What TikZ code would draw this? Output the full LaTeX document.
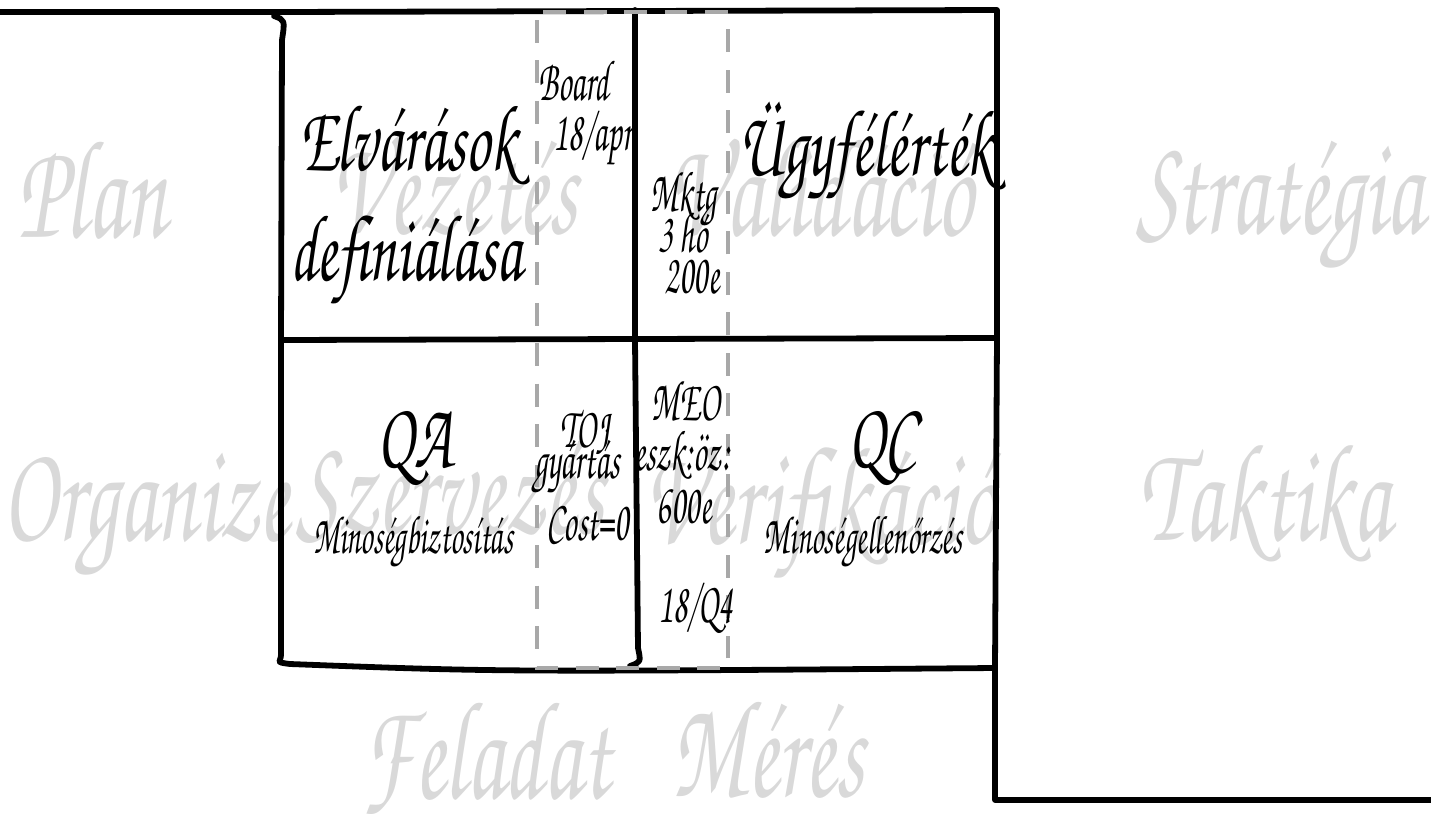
\documentclass[tikz,border=0pt]{standalone}
\usepackage{fontspec}
\newfontfamily\wmfont[FakeStretch=0.64]{TeX Gyre Chorus}
\newfontfamily\bigfont[FakeStretch=0.64]{TeX Gyre Chorus}
\newfontfamily\notefont[FakeStretch=0.57]{TeX Gyre Chorus}
\usetikzlibrary{positioning}
\definecolor{wmgray}{HTML}{D9D9D9}
\definecolor{lanegray}{HTML}{A8A8A8}
\tikzset{
  frame/.style={line width=3.3pt, line cap=round, line join=round},
  lane/.style={lanegray, line width=2.8pt, dash pattern=on 13pt off 10pt},
  wm/.style={text=wmgray, anchor=base, inner sep=0pt, font=\wmfont\fontsize{80}{80}\selectfont},
  big/.style={anchor=base, inner sep=0pt, font=\bigfont\fontsize{54}{54}\selectfont},
  sub/.style={anchor=base, inner sep=0pt, font=\notefont\fontsize{31}{31}\selectfont},
  note/.style={anchor=base, inner sep=0pt, font=\notefont\fontsize{33}{33}\selectfont},
}

\begin{document}
\begin{tikzpicture}[x=0.02cm, y=-0.02cm]
  \useasboundingbox (0,0) rectangle (1431,822);
  % watermark words
  \node[wm] (plan) at (92,237) {Plan};
  \node[wm] (organize) at (146,540) {Organize};
  \node[wm] (vezetes) at (454,233) {Vezetés};
  \node[wm] (validacio) at (820,235) {Validáció};
  \node[wm] (strategia) at (1280,233) {Stratégia};
  \node[wm] (szervezes) at (450,533) {Szervezés};
  \node[wm] (verifikacio) at (820,543) {Verifikáció};
  \node[wm] (taktika) at (1265,540) {Taktika};
  \node[wm] (feladat) at (486,798) {Feladat};
  \node[wm] (meres) at (768,796) {Mérés};
  % frame
  \coordinate (tl) at (280,12);
  \coordinate (tm) at (635,10);
  \coordinate (tr) at (997,10);
  \coordinate (ml) at (281,340);
  \coordinate (mr) at (997,338);
  \coordinate (bl) at (280,662);
  \coordinate (br) at (995,668);
  \draw[frame] (0,12) -- (tl) -- (tr) -- (mr) -- (br) -- (995,800) -- (1431,800);
  \draw[frame] (274,16) .. controls (285,20) .. (282,40) -- (ml) -- (281,655)
    .. controls (281,662) and (274,662) .. (290,664) .. controls (500,672) .. (br);
  \draw[frame] (ml) -- (mr);
  \draw[frame] (tm) -- (635,340) -- (638,648) .. controls (641,662) .. (630,666);
  % lanes
  \draw[lane] (537,20) -- (537,668) -- (728,668) -- (728,12) -- (537,12);
  % left column
  \node[big] (elvarasok) at (408,170) {Elvárások};
  \node[big] (definialasa) at (406,280) {definiálása};
  \node[big] (qa) at (415,467) {QA};
  \node[sub] (qasub) at (413,553) {Minoségbiztosítás};
  % lane notes
  \node[note] (board) at (574,100) {Board};
  \node[note] (boarddate) at (593,150) {18/apr};
  \node[note] (toj) at (585,447) {TOJ};
  \node[note] (gyartas) at (577,478) {gyártás};
  \node[note] (cost) at (588,540) {Cost=0};
  \node[note] (mktg) at (684,211) {Mktg};
  \node[note] (mktgtime) at (683,252) {3 hó};
  \node[note] (mktgcost) at (692,293) {200e};
  \node[note] (meo) at (686,420) {MEO};
  \node[note] (eszkoz) at (682,470) {eszk:öz:};
  \node[note] (meocost) at (684,523) {600e};
  \node[note] (meodate) at (696,622) {18/Q4};
  % right column
  \node[big] (ugyfel) at (866,175) {Ügyfélérték};
  \node[big] (qc) at (882,467) {QC};
  \node[sub] (qcsub) at (863,553) {Minoségellenőrzés};
\end{tikzpicture}
\end{document}
